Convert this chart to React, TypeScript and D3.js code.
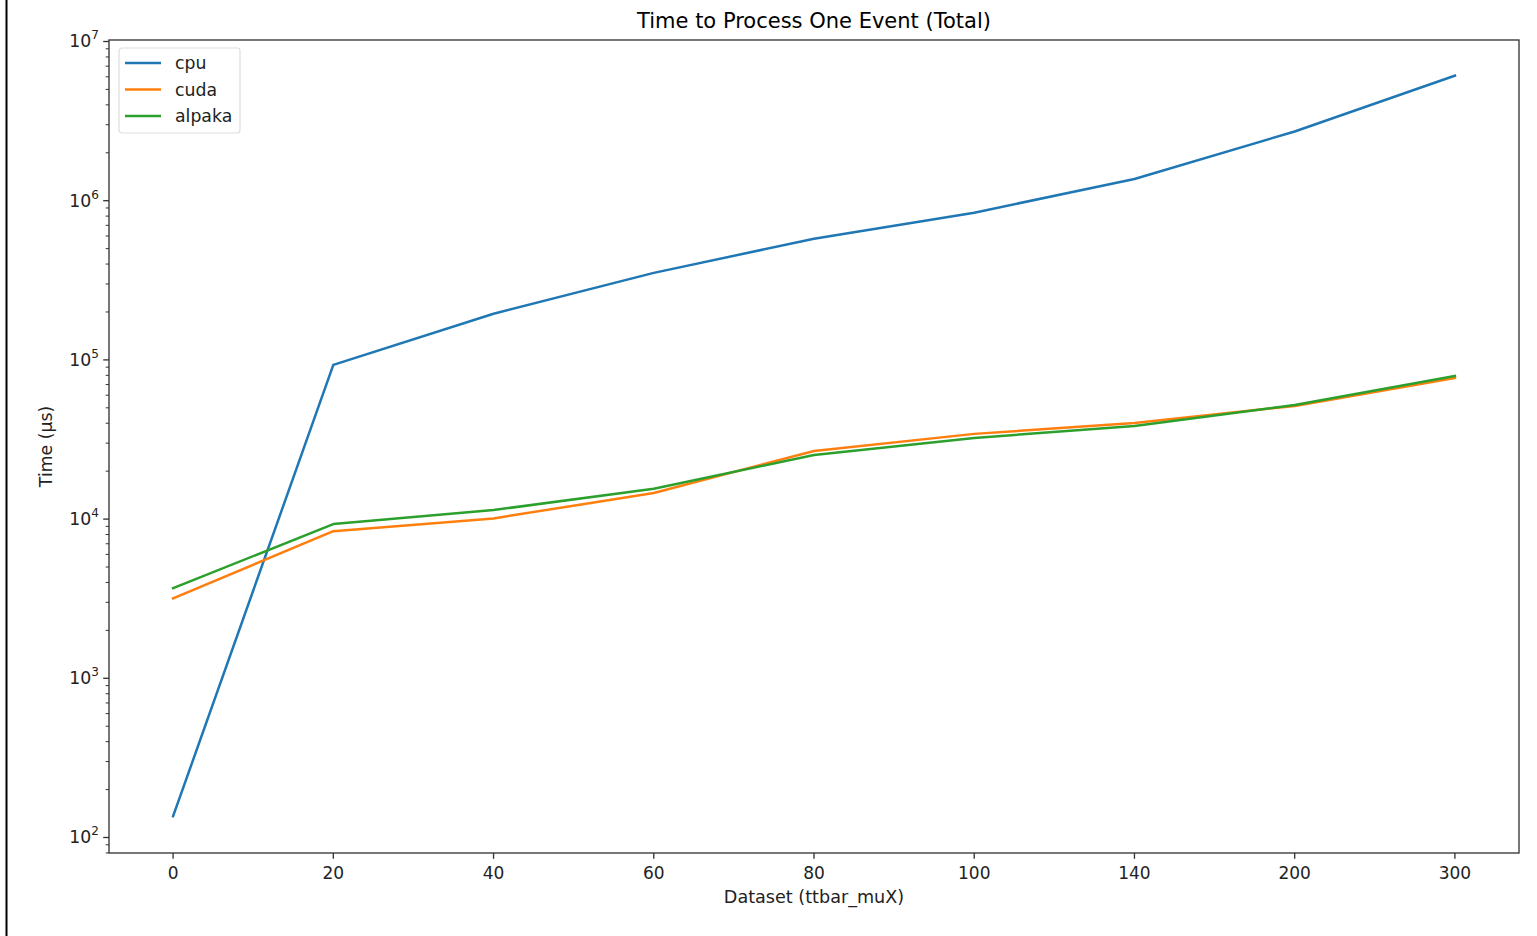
import React from 'react';
import * as d3 from 'd3';

// dataset labels (ttbar_muX pileup), plotted as categories
const datasets = ['0', '20', '40', '60', '80', '100', '140', '200', '300'];

// time per event in microseconds
const cpuTimes = [136, 93000, 195000, 352000, 577000, 841000, 1370000, 2720000, 6100000];
const cudaTimes = [3180, 8400, 10100, 14600, 26800, 34300, 40200, 51400, 77100];
const alpakaTimes = [3680, 9310, 11400, 15500, 25300, 32300, 38500, 52100, 79200];

const seriesNames = ['cpu', 'cuda', 'alpaka'];
const seriesColors = ['#1f77b4', '#ff7f0e', '#2ca02c'];
const yTickExps = [2, 3, 4, 5, 6, 7];

const W = 1537;
const H = 936;
const margin = { left: 109, right: 18, top: 40, bottom: 83 };
const font = '"DejaVu Sans", sans-serif';

export default function App() {
  const series = [cpuTimes, cudaTimes, alpakaTimes];

  const x = d3.scalePoint<string>()
    .domain(datasets)
    .range([margin.left, W - margin.right])
    .padding(0.4);

  const y = d3.scaleLog()
    .domain([Math.pow(10, 1.9026), Math.pow(10, 7.0094)])
    .range([H - margin.bottom, margin.top]);

  const line = d3.line<number>()
    .x((d, i) => x(datasets[i]) as number)
    .y(d => y(d));

  const minorTicks: number[] = [];
  const [lo, hi] = y.domain();
  for (let e = 1; e <= 7; e++) {
    for (let m = 2; m <= 9; m++) {
      const v = m * Math.pow(10, e);
      if (v >= lo && v <= hi) minorTicks.push(v);
    }
  }

  const plotW = W - margin.left - margin.right;
  const plotH = H - margin.top - margin.bottom;
  const axisColor = '#333';

  return (
    <div>
      <style>{`body{margin:0;}`}</style>
      <svg width={W} height={H} style={{ display: 'block', fontFamily: font }}>
        <rect x={0} y={0} width={W} height={H} fill="#fff" />

        {/* stray edge of the screenshot */}
        <line x1={6.5} x2={6.5} y1={0} y2={H} stroke="#000" strokeWidth={2} />

        <text x={814} y={28} textAnchor="middle" fontSize={21} fill="#000">
          Time to Process One Event (Total)
        </text>

        <g>
          {series.map((s, i) => (
            <path
              key={seriesNames[i]}
              d={line(s) as string}
              fill="none"
              stroke={seriesColors[i]}
              strokeWidth={2.5}
              strokeLinejoin="round"
              strokeLinecap="square"
            />
          ))}
        </g>

        <rect
          x={margin.left}
          y={margin.top}
          width={plotW}
          height={plotH}
          fill="none"
          stroke={axisColor}
          strokeWidth={1.33}
        />

        {/* x axis */}
        <g>
          {datasets.map(d => (
            <g key={d} transform={`translate(${x(d)}, ${H - margin.bottom})`}>
              <line y1={0} y2={5.8} stroke={axisColor} strokeWidth={1.33} />
              <text y={26} textAnchor="middle" fontSize={17} fill="#222">
                {d}
              </text>
            </g>
          ))}
          <text x={margin.left + plotW / 2} y={903} textAnchor="middle" fontSize={17.6} fill="#222">
            Dataset (ttbar_muX)
          </text>
        </g>

        {/* y axis */}
        <g>
          {minorTicks.map(v => (
            <line
              key={v}
              x1={margin.left - 3.3}
              x2={margin.left}
              y1={y(v)}
              y2={y(v)}
              stroke={axisColor}
              strokeWidth={1}
            />
          ))}
          {yTickExps.map(e => {
            const ty = y(Math.pow(10, e));
            return (
              <g key={e} transform={`translate(${margin.left}, ${ty})`}>
                <line x1={-5.8} x2={0} stroke={axisColor} strokeWidth={1.33} />
                <text x={-10} y={6} textAnchor="end" fontSize={17.3} fill="#222">
                  10
                  <tspan dy={-8} fontSize={12}>{e}</tspan>
                </text>
              </g>
            );
          })}
          <text
            transform={`translate(52, ${margin.top + plotH / 2}) rotate(-90)`}
            textAnchor="middle"
            fontSize={17.3}
            fill="#222"
          >
            Time (µs)
          </text>
        </g>

        {/* legend */}
        <g transform="translate(119, 48)">
          <rect x={0} y={0} width={121} height={85} rx={3} fill="#fff" fillOpacity={0.8} stroke="#ddd" strokeWidth={1.2} />
          {seriesNames.map((n, i) => (
            <g key={n} transform={`translate(0, ${15 + i * 26.5})`}>
              <line x1={6} x2={42} stroke={seriesColors[i]} strokeWidth={2.5} />
              <text x={56} y={6} fontSize={17.3} fill="#222">{n}</text>
            </g>
          ))}
        </g>
      </svg>
    </div>
  );
}
